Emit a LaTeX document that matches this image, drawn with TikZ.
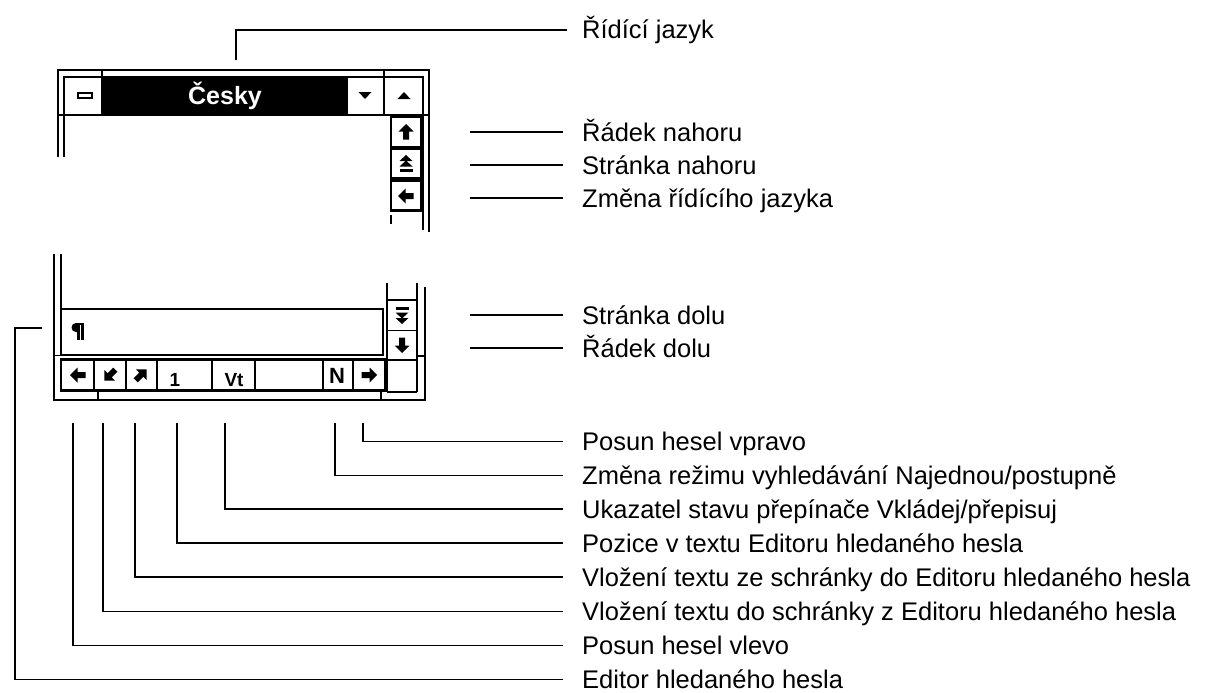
\documentclass[tikz,border=0pt]{standalone}
\usepackage{fontspec}
\setmainfont{Liberation Sans}
\begin{document}
\begin{tikzpicture}[x=1pt,y=-1pt,
  fr/.style={line width=1.7pt},
  thk/.style={line width=2.8pt},
  ld/.style={line width=1.6pt},
  lab/.style={font=\fontsize{25.5}{30}\selectfont, anchor=west, inner sep=0pt, text height=18pt, text depth=0pt},
  btxt/.style={font=\bfseries\fontsize{#1}{#1}\selectfont, inner sep=0pt},
  arr/.pic={\fill (0,-8) -- (7.5,-0.5) -- (3,-0.5) -- (3,7.5) -- (-3,7.5) -- (-3,-0.5) -- (-7.5,-0.5) -- cycle;},
  dtri/.pic={\fill (0,-9) -- (6.5,-3) -- (-6.5,-3) -- cycle; \fill (0,-3.5) -- (6.5,2.5) -- (-6.5,2.5) -- cycle; \fill (-6.5,5) rectangle (6.5,8);},
  pilcrow/.pic={\fill (0.5,-8.5) -- (-1,-8.5) arc[start angle=-90, end angle=-270, radius=4.5] -- (0.5,0.5) -- cycle; \fill (0,-8.5) rectangle (2.5,8.5); \fill (4,-8.5) rectangle (6.5,8.5); \fill (0,-8.5) rectangle (6.5,-7);}
]
\useasboundingbox (0,0) rectangle (1210,693);

% ---------- upper part of the window ----------
\draw[fr] (58,157) -- (58,70) -- (429,70) -- (429,232);
\draw[fr] (64,157) -- (64,77) -- (423,77) -- (423,230);
\fill (102,77) rectangle (347,115);
\draw[fr] (58,115) -- (429,115);
\draw[fr] (102,70) -- (102,115);
\draw[fr] (384,70) -- (384,115);
\draw[fr] (347,77) -- (347,115);
\node[font=\bfseries\fontsize{25}{25}\selectfont, text=white, inner sep=0pt] (cesky) at (225,96) {Česky};
\draw[line width=2pt, fill=white] (78,92.5) rectangle (92,98);
\fill (358.5,92) -- (371.5,92) -- (365,99) -- cycle;
\fill (397.5,99) -- (410.5,99) -- (404,92) -- cycle;

% right scroll column (top)
\draw[fr, fill=white] (391,117) rectangle (421,147);
\draw[fr, fill=white] (391,149) rectangle (421,179);
\draw[fr, fill=white] (391,181) rectangle (421,211);
\draw[thk] (391,178.5) -- (421,178.5);
\draw[thk] (391,210.5) -- (421,210.5);
\draw[fr] (391,215) -- (391,224);
\pic at (406,132) {arr};
\pic at (406,164) {dtri};
\pic[rotate=90] at (406,196) {arr};
\coordinate (cR1) at (470,132);
\coordinate (cR2) at (470,165);
\coordinate (cR3) at (470,198);

% ---------- lower part of the window ----------
\draw[fr] (54,254) -- (54,400) -- (425,400) -- (425,287);
\draw[fr] (61,254) -- (61,356);
\draw[fr] (61,309) rectangle (383,355);
\draw[fr] (54,355.5) -- (61,355.5);
\pic at (77,331.5) {pilcrow};
\draw[fr] (61,359) rectangle (385,391);
\draw[thk] (61,359.8) -- (385,359.8);
\draw[thk] (61,390.5) -- (385,390.5);
\draw[thk] (94,359) -- (94,391);
\draw[thk] (126,359) -- (126,391);
\foreach \x in {157,212,255,323,353} \draw[fr] (\x,359) -- (\x,391);
\draw[fr] (98,391) -- (98,400);
\draw[fr] (381,391) -- (381,400);
\pic[rotate=90] at (78,375) {arr};
\pic[rotate=135] at (110,375) {arr};
\pic[rotate=-45] at (141,375) {arr};
\node[btxt=19, anchor=base] (one) at (175,386) {1};
\node[btxt=19, anchor=base] (vt) at (234,386) {Vt};
\node[btxt=22, anchor=base] (nn) at (337,383) {N};
\pic[rotate=-90] at (369,375) {arr};

% right scroll column (bottom)
\draw[fr] (387,283) -- (387,392);
\draw[fr] (417,283) -- (417,392);
\draw[fr] (387,300) -- (417,300);
\draw[fr] (387,330.5) -- (417,330.5);
\draw[fr] (387,360) -- (417,360);
\draw[fr] (387,392) -- (417,392);
\draw[fr] (417,356) -- (425,356);
\pic[rotate=180] at (402,315) {dtri};
\pic[rotate=180] at (402,345) {arr};
\coordinate (cR4) at (470,315);
\coordinate (cR5) at (470,348);

% ---------- labels ----------
\node[lab] (lTop) at (582,30) {Řídící jazyk};
\node[lab] (lR1) at (582,132) {Řádek nahoru};
\node[lab] (lR2) at (582,165) {Stránka nahoru};
\node[lab] (lR3) at (582,198) {Změna řídícího jazyka};
\node[lab] (lR4) at (582,315) {Stránka dolu};
\node[lab] (lR5) at (582,348) {Řádek dolu};
\node[lab] (lB1) at (582,441.5) {Posun hesel vpravo};
\node[lab] (lB2) at (582,475.5) {Změna režimu vyhledávání Najednou/postupně};
\node[lab] (lB3) at (582,509) {Ukazatel stavu přepínače Vkládej/přepisuj};
\node[lab] (lB4) at (582,543) {Pozice v textu Editoru hledaného hesla};
\node[lab] (lB5) at (582,577) {Vložení textu ze schránky do Editoru hledaného hesla};
\node[lab] (lB6) at (582,611.5) {Vložení textu do schránky z Editoru hledaného hesla};
\node[lab] (lB7) at (582,645.5) {Posun hesel vlevo};
\node[lab] (lB8) at (582,679.5) {Editor hledaného hesla};

% ---------- leaders ----------
\coordinate (cTop) at (236,60);
\draw[ld] (cTop) |- ([xshift=-15pt]lTop.west);
\foreach \i in {1,...,5} \draw[ld] (cR\i) -- ([xshift=-19pt]lR\i.west);
\coordinate (b1) at (363,423);
\coordinate (b2) at (335,423);
\coordinate (b3) at (225,423);
\coordinate (b4) at (177,423);
\coordinate (b5) at (135,423);
\coordinate (b6) at (103,423);
\coordinate (b7) at (73,423);
\foreach \i in {1,...,7} \draw[ld] (b\i) |- ([xshift=-19pt]lB\i.west);
\coordinate (b8) at (42,328);
\draw[ld] (b8) -- (15,328) |- ([xshift=-19pt]lB8.west);
\end{tikzpicture}
\end{document}
